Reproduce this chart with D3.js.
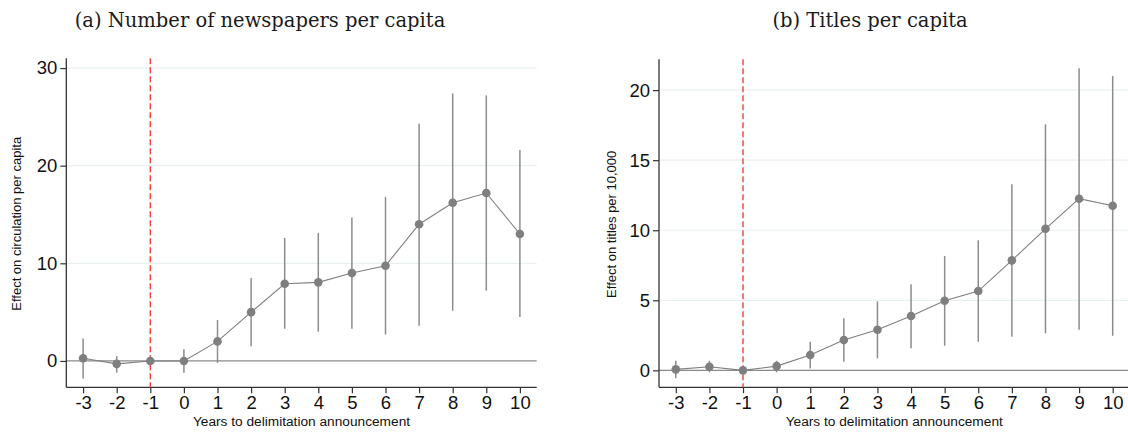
<!DOCTYPE html>
<html>
<head>
<meta charset="utf-8">
<script src="https://cdn.jsdelivr.net/npm/d3@7"></script>
<style>
  body { margin: 0; background: #fff; }
  svg { display: block; }
</style>
</head>
<body>
<svg id="chart"></svg>
<script>
// event time (years to delimitation announcement)
const years = [-3, -2, -1, 0, 1, 2, 3, 4, 5, 6, 7, 8, 9, 10];

// (a) circulation per capita
const circCoef = [0.28, -0.3, 0, 0.0, 2.0, 5.0, 7.9, 8.05, 9.0, 9.75, 14.0, 16.2, 17.2, 13.0];
const circLo   = [-1.8, -1.2, null, -1.2, -0.2, 1.5, 3.3, 3.0, 3.3, 2.7, 3.6, 5.15, 7.2, 4.5];
const circHi   = [2.3, 0.5, null, 1.2, 4.2, 8.5, 12.6, 13.1, 14.7, 16.8, 24.3, 27.4, 27.2, 21.6];

// (b) titles per 10,000
const titleCoef = [0.07, 0.26, 0, 0.3, 1.09, 2.16, 2.9, 3.88, 4.97, 5.66, 7.85, 10.1, 12.25, 11.75];
const titleLo   = [-0.57, -0.14, null, -0.14, 0.14, 0.62, 0.86, 1.57, 1.76, 2.04, 2.4, 2.64, 2.9, 2.47];
const titleHi   = [0.68, 0.68, null, 0.68, 2.04, 3.71, 4.92, 6.14, 8.16, 9.28, 13.28, 17.56, 21.56, 21.0];

const circTicks = [0, 10, 20, 30];
const titleTicks = [0, 5, 10, 15, 20];

const W = 1128, H = 432;
const svg = d3.select("#chart").attr("width", W).attr("height", H);

const sans = "'Liberation Sans', Arial, sans-serif";
const serif = "'DejaVu Serif', 'Liberation Serif', serif";
const grey = "#7f7f7f";

function drawPanel(opt) {
    const x = d3.scaleLinear().domain([-3.5, 10.5]).range([opt.left, opt.right]);
    const y = d3.scaleLinear().domain(opt.yDomain).range([387.3, opt.top]);
    const g = svg.append("g");

    // title
    g.append("text")
        .attr("x", opt.titleX).attr("y", 27)
        .attr("text-anchor", "middle")
        .style("font-family", serif).style("font-size", "19.5px").attr("fill", "#1a1a1a")
        .text(opt.title);

    // gridlines
    g.selectAll("line.grid")
        .data(opt.ticks.filter(d => d !== 0))
        .enter().append("line")
        .attr("class", "grid")
        .attr("x1", opt.left).attr("x2", opt.right)
        .attr("y1", d => y(d)).attr("y2", d => y(d))
        .attr("stroke", "#e8f0f2").attr("stroke-width", 1.2);

    // zero line
    g.append("line")
        .attr("x1", opt.left).attr("x2", opt.right)
        .attr("y1", y(0)).attr("y2", y(0))
        .attr("stroke", "#8a8a8a").attr("stroke-width", 1.2);

    // axes
    const yAxis = g.append("g")
        .attr("transform", `translate(${opt.left},0)`)
        .call(d3.axisLeft(y).tickValues(opt.ticks).tickSize(6).tickPadding(3).tickFormat(d => String(d)));
    const xAxis = g.append("g")
        .attr("transform", `translate(0,${y.range()[0]})`)
        .call(d3.axisBottom(x).tickValues(years).tickSize(6).tickPadding(3).tickFormat(d => String(d)));
    [yAxis, xAxis].forEach(a => {
        a.select(".domain").attr("stroke", "#333").attr("stroke-width", 1.3);
        a.selectAll(".tick line").attr("stroke", "#333").attr("stroke-width", 1.2);
        a.selectAll(".tick text").style("font-family", sans).style("font-size", "18.5px").attr("fill", "#111");
    });
    yAxis.select(".domain").attr("d", `M0,${y.range()[0]}V${opt.top}`);
    xAxis.select(".domain").attr("d", `M${opt.left},0H${opt.right}`);

    // axis titles
    g.append("text")
        .attr("x", (opt.left + opt.right) / 2).attr("y", 426)
        .attr("text-anchor", "middle")
        .style("font-family", sans).style("font-size", "13.7px").attr("fill", "#111")
        .text("Years to delimitation announcement");
    g.append("text")
        .attr("transform", `translate(${opt.yLabelX},${(opt.top + 387.3) / 2 + 1}) rotate(-90)`)
        .attr("text-anchor", "middle")
        .style("font-family", sans).style("font-size", "13px").attr("fill", "#111")
        .text(opt.yLabel);

    // reference line at -1
    g.append("line")
        .attr("x1", x(-1)).attr("x2", x(-1))
        .attr("y1", opt.top).attr("y2", y.range()[0])
        .attr("stroke", "#ff3b3b").attr("stroke-width", 1.4)
        .attr("stroke-dasharray", "6,3");

    const rows = years.map((yr, i) => ({ yr, c: opt.coef[i], lo: opt.lo[i], hi: opt.hi[i] }));

    // confidence intervals
    g.selectAll("line.ci")
        .data(rows.filter(d => d.lo !== null))
        .enter().append("line")
        .attr("class", "ci")
        .attr("x1", d => x(d.yr)).attr("x2", d => x(d.yr))
        .attr("y1", d => y(d.lo)).attr("y2", d => y(d.hi))
        .attr("stroke", "#8c8c8c").attr("stroke-width", 1.5);

    // connecting line
    g.append("path")
        .datum(rows)
        .attr("d", d3.line().x(d => x(d.yr)).y(d => y(d.c)))
        .attr("fill", "none").attr("stroke", grey).attr("stroke-width", 1.1);

    g.selectAll("circle.pt")
        .data(rows)
        .enter().append("circle")
        .attr("class", "pt")
        .attr("cx", d => x(d.yr)).attr("cy", d => y(d.c))
        .attr("r", 4.3)
        .attr("fill", grey);
}

drawPanel({
    title: "(a) Number of newspapers per capita", titleX: 260,
    left: 66.3, right: 536.7, top: 58.3, yDomain: [-2.7, 31],
    ticks: circTicks, yLabel: "Effect on circulation per capita", yLabelX: 21,
    coef: circCoef, lo: circLo, hi: circHi
});
drawPanel({
    title: "(b) Titles per capita", titleX: 870,
    left: 659, right: 1129.5, top: 59.3, yDomain: [-1.21, 22.2],
    ticks: titleTicks, yLabel: "Effect on titles per 10,000", yLabelX: 616,
    coef: titleCoef, lo: titleLo, hi: titleHi
});
</script>
</body>
</html>
